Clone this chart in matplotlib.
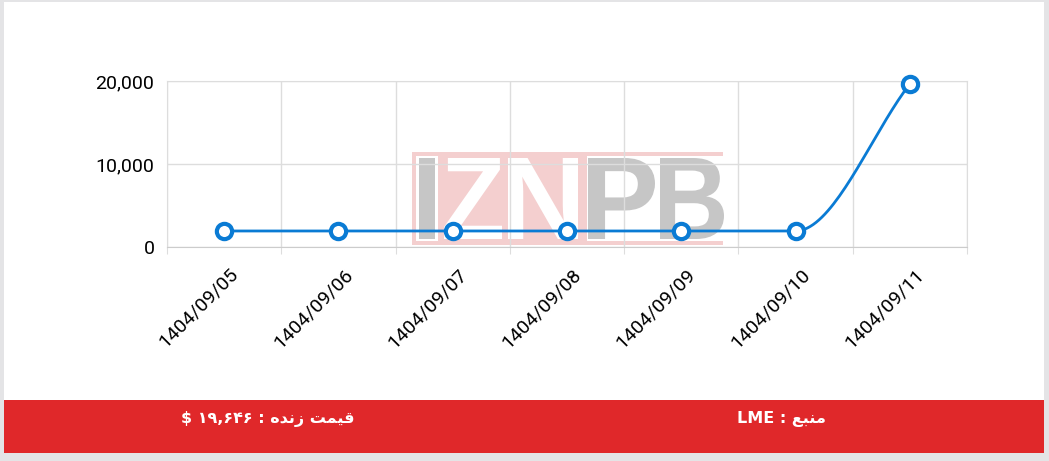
"""Nemodar: gheymat zende (LME)."""

import numpy as np
import matplotlib.pyplot as plt
import matplotlib.transforms as mtransforms
from matplotlib.patches import Rectangle, PathPatch
from matplotlib.textpath import TextPath
from matplotlib.font_manager import FontProperties

# data
dates = ["1404/09/05", "1404/09/06", "1404/09/07", "1404/09/08",
         "1404/09/09", "1404/09/10", "1404/09/11"]
prices = [1930, 1930, 1930, 1930, 1930, 1930, 19646]
yticks = [0, 10000, 20000]
ytick_labels = ["0", "10,000", "20,000"]

# matn farsi (shekl-haye erae, tartib-e chap be rast)
label_price = "$ \u06f1\u06f9,\u06f6\u06f4\u06f6 : \ufee9\ufeaa\ufee7\ufeaf \ufe96\ufee4\ufef4\ufed7"
label_source = "LME : \ufeca\ufe92\ufee8\ufee3"

W, H = 1049, 461


def monotone(x, y, n=40):
    # monotone cubic (Fritsch-Carlson) baraye khat-e narm
    x = np.asarray(x, float)
    y = np.asarray(y, float)
    d = np.diff(y) / np.diff(x)
    m = np.zeros_like(y)
    m[0], m[-1] = d[0], d[-1]
    for i in range(1, len(y) - 1):
        m[i] = 0 if d[i - 1] * d[i] <= 0 else (d[i - 1] + d[i]) / 2
    for i in range(len(d)):
        if d[i] == 0:
            m[i] = m[i + 1] = 0
        else:
            a, b = m[i] / d[i], m[i + 1] / d[i]
            s = a * a + b * b
            if s > 9:
                t = 3 / np.sqrt(s)
                m[i], m[i + 1] = t * a * d[i], t * b * d[i]
    xs, ys = [], []
    for i in range(len(d)):
        h = x[i + 1] - x[i]
        t = np.linspace(0, 1, n)
        h00 = 2 * t**3 - 3 * t**2 + 1
        h10 = t**3 - 2 * t**2 + t
        h01 = -2 * t**3 + 3 * t**2
        h11 = t**3 - t**2
        xs.append(x[i] + t * h)
        ys.append(h00 * y[i] + h10 * h * m[i] + h01 * y[i + 1] + h11 * h * m[i + 1])
    return np.concatenate(xs), np.concatenate(ys)


fig = plt.figure(figsize=(W / 100, H / 100), dpi=100)
fig.patch.set_facecolor("#e4e4e6")


def box(x0, y0, x1, y1, color, z):
    # mostatil dar pixel (az bala-chap)
    fig.patches.append(Rectangle((x0 / W, 1 - y1 / H), (x1 - x0) / W, (y1 - y0) / H,
                                 transform=fig.transFigure, color=color, lw=0, zorder=z))


# karte sefid va navar-e ghermez
box(4, 2, 1044, 453, "white", -3)
box(4, 400, 1044, 453, "#e0282a", -2)
fig.text(268 / W, 1 - 419 / H, label_price, color="white", fontsize=11.5,
         fontweight="bold", ha="center", va="center", family="DejaVu Sans")
fig.text(781 / W, 1 - 419 / H, label_source, color="white", fontsize=11.5,
         fontweight="bold", ha="center", va="center", family="DejaVu Sans")

# watermark IZNPB
fp = FontProperties(family="Liberation Sans", weight="bold")


def letter(ch, x0, x1, top, bottom, color):
    p = TextPath((0, 0), ch, size=100, prop=fp)
    e = p.get_extents()
    tr = (mtransforms.Affine2D().translate(-e.x0, -e.y0)
          .scale((x1 - x0) / e.width, (bottom - top) / e.height)
          .translate(x0, H - bottom))
    fig.patches.append(PathPatch(p, transform=tr, color=color, lw=0, zorder=-1))


box(412, 152, 587, 245, "#f4cfcf", -1.5)
box(587, 152, 723, 156, "#f4cfcf", -1.5)
box(587, 241, 723, 245, "#f4cfcf", -1.5)
box(416, 156, 438, 241, "white", -1.4)
letter("I", 419, 435, 158, 239, "#c6c6c6")
letter("Z", 444, 502, 158, 239, "white")
letter("N", 508, 578, 158, 239, "white")
letter("P", 588, 655, 158, 239, "#c6c6c6")
letter("B", 660, 724, 158, 239, "#c6c6c6")

ax = fig.add_axes([167 / W, 1 - 247 / H, 800 / W, 166 / H])
ax.set_zorder(2)
ax.set_facecolor("none")

x = np.arange(len(prices))
ax.set_xlim(-0.5, len(prices) - 0.5)
ax.set_ylim(0, 20000)

xs, ys = monotone(x, prices)
ax.plot(xs, ys, color="#0a7bd4", lw=2, zorder=3)
ax.plot(x, prices, "o", ms=11, mfc="white", mec="#0a7bd4", mew=3, zorder=4,
        clip_on=False)

ax.set_xticks(np.arange(-0.5, len(prices), 1), minor=False)
ax.set_xticklabels([])
ax.set_xticks(x, minor=True)
ax.set_xticklabels(dates, minor=True, rotation=45, ha="right",
                   rotation_mode="anchor", fontsize=14, family="Roboto")
ax.tick_params(axis="x", which="minor", length=0, pad=13)
ax.tick_params(axis="x", which="major", length=5, color="#dddddd")
shift = mtransforms.ScaledTranslation(5 / 100, 0, fig.dpi_scale_trans)
for lbl in ax.get_xticklabels(minor=True):
    lbl.set_transform(lbl.get_transform() + shift)
ax.set_yticks(yticks)
ax.set_yticklabels(ytick_labels, fontsize=14, family="Roboto")
ax.tick_params(axis="y", length=0, pad=9)
ax.grid(True, which="major", color="#dddddd", lw=1, zorder=0)
for s in ax.spines.values():
    s.set_color("#dddddd")
ax.spines["bottom"].set_color("#cccccc")

plt.savefig("out.png", dpi=100)
